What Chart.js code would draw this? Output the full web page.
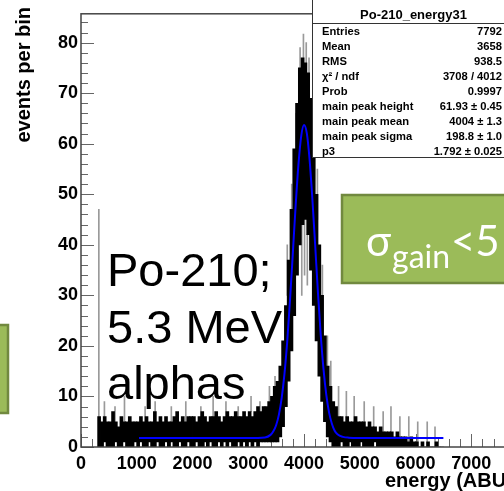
<!DOCTYPE html>
<html>
<head>
<meta charset="utf-8">
<script src="https://cdn.jsdelivr.net/npm/chart.js@4.4.1/dist/chart.umd.min.js"></script>
<style>
  html, body { margin: 0; padding: 0; background: #fff; overflow: hidden; }
  #wrap { width: 504px; height: 491px; overflow: hidden; }
  canvas { display: block; }
</style>
</head>
<body>
<div id="wrap"><canvas id="chart" width="560" height="491"></canvas></div>
<script>
// histogram, drawn as min/max per 50-unit column
const binStart = 300;
const binWidth = 50;
const binHigh = [
  6, 5, 6, 5, 5, 7, 5, 4, 6, 5, 5, 6, 5, 5,
  5, 6, 5, 6, 5, 5, 7, 5, 6, 5, 6, 5, 5, 6, 7, 5, 6, 5, 6, 6,
  6, 5, 6, 7, 6, 5, 6, 6, 7, 6, 5, 6, 7, 6, 6, 7, 6, 6, 7, 6,
  7, 6, 7, 8, 7, 8,
  8, 9, 10, 12,
  13, 16, 21, 28, 37, 47, 59, 68, 75, 77, 76, 74, 69, 61, 50, 40, 30, 22, 16, 12, 9, 8,
  6, 6, 5, 6, 5, 5, 6, 5, 5, 5, 4, 5, 4, 4, 3, 4, 3, 3,
  3, 3, 2, 3, 2, 2, 2, 1, 2, 1,
  1, 0, 1, 0, 1, 0, 0, 1, 0, 0,
];
const binLow = [
  0, 0, 1, 0, 0, 0, 1, 0, 0, 1, 0, 0, 0, 1,
  0, 1, 0, 0, 1, 0, 0, 1, 0, 0, 1, 0, 1, 0, 0, 1, 0, 0, 1, 0,
  0, 1, 0, 0, 1, 0, 1, 0, 0, 1, 0, 1, 0, 1, 0, 0, 1, 0, 1, 0,
  1, 0, 1, 0, 1, 1,
  1, 1, 1, 1,
  1, 2, 4, 8, 13, 19, 26, 34, 40, 44, 45, 42, 35, 28, 21, 14, 9, 5, 2, 1, 0, 0,
  0, 1, 0, 0, 1, 0, 0, 0, 1, 0, 0, 0, 0, 1, 0, 0, 0, 0,
  0, 0, 0, 0, 0, 0, 0, 0, 0, 0,
  0, 0, 0, 0, 0, 0, 0, 0, 0, 0,
];

// lighter single-bin spikes and dips
const spikeX = [320, 420, 610, 780, 1150, 1330, 1620, 1880, 2150, 2370, 2600, 2820, 3050, 3210, 3380, 3480,
  3700, 3780, 3860, 3930, 3990, 4040, 4090, 4160, 4240, 4330, 4420, 4480,
  3960, 4010, 4060,
  4620, 4760, 4900, 5080, 5250, 5420, 5560, 5720, 5880, 6040, 6210, 6350];
const spikeFrom = [0, 5, 5, 5, 5, 5, 5, 5, 5, 6, 6, 6, 7, 7, 9, 11,
  30, 40, 55, 70, 72, 70, 66, 58, 45, 28, 16, 11,
  30, 34, 32,
  6, 5, 5, 5, 4, 3, 2, 1, 0, 0, 0, 0];
const spikeTo = [47, 9, 8, 10, 8, 9, 8, 9, 8, 10, 9, 8, 10, 9, 12, 14,
  40, 52, 66, 79, 81.7, 80, 77, 68, 55, 36, 22, 17,
  45, 46, 42,
  12, 11, 10, 9, 8, 7, 8, 6, 6, 5, 5, 4];

// fit curve (blue)
const fitX = [1040, 3000, 3300, 3400, 3450, 3500, 3550, 3600, 3650, 3700, 3750, 3800, 3850, 3900, 3950, 4000,
  4050, 4100, 4150, 4200, 4250, 4300, 4350, 4400, 4450, 4500, 4550, 4600, 4700, 4800, 5000, 6500];
const fitY = [1.8, 1.8, 1.9, 2.4, 3.1, 4.3, 6.4, 9.7, 14.5, 21, 29.2, 38.4, 47.7, 55.8, 61.5, 63.7,
  62.1, 56.9, 49.1, 40, 30.6, 22.2, 15.4, 10.3, 6.8, 4.6, 3.2, 2.5, 2.0, 1.85, 1.8, 1.8];

const xTickLabels = [0, 1000, 2000, 3000, 4000, 5000, 6000, 7000];
const yTickLabels = [0, 10, 20, 30, 40, 50, 60, 70, 80];

const statTitle = "Po-210_energy31";
const statLabels = ["Entries", "Mean", "RMS", "\u03c7\u00b2 / ndf", "Prob", "main peak height", "main peak mean", "main peak sigma", "p3"];
const statValues = ["7792", "3658", "938.5", "3708 / 4012", "0.9997", "61.93 \u00b1 0.45", "4004 \u00b1 1.3", "198.8 \u00b1 1.0", "1.792 \u00b1 0.025"];

const noteLines = ["Po-210;", "5.3 MeV", "alphas"];

const FONT = "'Liberation Sans', Arial, sans-serif";
const SLIDE_FONT = "Lato, 'Open Sans', sans-serif";

// each column = invisible base up to the low value + black band up to the high value
const binCenters = binHigh.map((_, i) => binStart + binWidth * (i + 0.5));
const histBase = binCenters.map((x, i) => ({ x, y: binLow[i] }));
const histBand = binCenters.map((x, i) => ({ x, y: binHigh[i] - binLow[i] }));
const spikeBase = spikeX.map((x, i) => ({ x, y: spikeFrom[i] }));
const spikeBand = spikeX.map((x, i) => ({ x, y: spikeTo[i] - spikeFrom[i] }));
const fitData = fitX.map((x, i) => ({ x, y: fitY[i] }));

function drawTicks(chart) {
  const { ctx, chartArea, scales } = chart;
  ctx.save();
  ctx.strokeStyle = "#666";
  ctx.lineWidth = 1;
  for (let v = 0; v <= 84; v += 2) {
    const y = Math.round(scales.y.getPixelForValue(v)) + 0.5;
    const len = v % 10 === 0 ? 13 : 7;
    ctx.beginPath();
    ctx.moveTo(chartArea.left, y);
    ctx.lineTo(chartArea.left + len, y);
    ctx.stroke();
  }
  for (let v = 0; v <= 8000; v += 200) {
    const x = Math.round(scales.x.getPixelForValue(v)) + 0.5;
    const len = v % 1000 === 0 ? 13 : 8;
    ctx.beginPath();
    ctx.moveTo(x, chartArea.bottom);
    ctx.lineTo(x, chartArea.bottom - len);
    ctx.stroke();
  }
  ctx.restore();
}

function drawFrame(chart) {
  const { ctx, chartArea } = chart;
  ctx.save();
  ctx.strokeStyle = "#444";
  ctx.lineWidth = 1.5;
  ctx.strokeRect(chartArea.left, chartArea.top, chartArea.right - chartArea.left, chartArea.bottom - chartArea.top);
  ctx.restore();
}

function greenBox(ctx, x, y, w, h) {
  ctx.fillStyle = "#9bbb59";
  ctx.fillRect(x, y, w, h);
  ctx.strokeStyle = "#71893f";
  ctx.lineWidth = 2.5;
  ctx.strokeRect(x, y, w, h);
}

function drawOverlay(chart) {
  const { ctx } = chart;
  ctx.save();

  // stats box
  ctx.fillStyle = "#fff";
  ctx.fillRect(312, -2, 203, 159);
  ctx.strokeStyle = "#333";
  ctx.lineWidth = 1;
  ctx.strokeRect(312.5, -2, 203, 159.5);
  ctx.beginPath();
  ctx.moveTo(312.5, 23.5);
  ctx.lineTo(515, 23.5);
  ctx.stroke();
  ctx.fillStyle = "#000";
  ctx.font = "bold 13px " + FONT;
  ctx.textAlign = "center";
  ctx.textBaseline = "alphabetic";
  ctx.fillText(statTitle, 413.5, 19);
  ctx.font = "bold 11.2px " + FONT;
  statLabels.forEach((label, i) => {
    const y = 34.7 + i * 15;
    ctx.textAlign = "left";
    ctx.fillText(label, 322, y);
    ctx.textAlign = "right";
    ctx.fillText(statValues[i], 502, y);
  });

  // axis titles
  ctx.font = "bold 20px " + FONT;
  ctx.textAlign = "left";
  ctx.fillText("energy (ABU)", 385, 487);
  ctx.save();
  ctx.translate(30, 7);
  ctx.rotate(-Math.PI / 2);
  ctx.textAlign = "right";
  ctx.fillText("events per bin", 0, 0);
  ctx.restore();

  // green boxes
  greenBox(ctx, -10, 325, 18, 88);
  greenBox(ctx, 342, 195, 200, 88);
  ctx.fillStyle = "#fff";
  ctx.textAlign = "left";
  ctx.font = "42px " + SLIDE_FONT;
  ctx.fillText("\u03c3", 366, 256);
  ctx.font = "32px " + SLIDE_FONT;
  ctx.fillText("gain", 392, 268);
  ctx.font = "42px " + SLIDE_FONT;
  ctx.fillText("<5", 451, 256);

  // annotation
  ctx.fillStyle = "#000";
  ctx.font = "47px " + FONT;
  noteLines.forEach((line, i) => {
    ctx.fillText(line, 107, 286 + i * 56.5);
  });

  ctx.restore();
}

const rootStyle = {
  id: "rootStyle",
  beforeDatasetsDraw(chart) {
    drawTicks(chart);
  },
  afterDatasetsDraw(chart) {
    drawFrame(chart);
  },
  afterDraw(chart) {
    drawOverlay(chart);
  },
};

const barCommon = { grouped: false, borderWidth: 0 };

new Chart(document.getElementById("chart"), {
  type: "bar",
  data: {
    datasets: [
      {
        type: "line",
        label: "fit",
        data: fitData,
        borderColor: "#0000ff",
        borderWidth: 2,
        pointRadius: 0,
        cubicInterpolationMode: "monotone",
        stack: "fit",
        order: 0,
      },
      { ...barCommon, label: "histBase", data: histBase, backgroundColor: "rgba(0,0,0,0)", barThickness: 3, stack: "hist", order: 1 },
      { ...barCommon, label: "Po-210_energy31", data: histBand, backgroundColor: "#000", barThickness: 3, stack: "hist", order: 1 },
      { ...barCommon, label: "spikeBase", data: spikeBase, backgroundColor: "rgba(0,0,0,0)", barThickness: 1, stack: "spike", order: 2 },
      { ...barCommon, label: "spikes", data: spikeBand, backgroundColor: "#9a9a9a", barThickness: 1, stack: "spike", order: 2 },
    ],
  },
  options: {
    responsive: false,
    animation: false,
    events: [],
    layout: { padding: { left: 0, top: 7, right: 33, bottom: 0 } },
    plugins: {
      legend: { display: false },
      tooltip: { enabled: false },
    },
    scales: {
      x: {
        type: "linear",
        min: 0,
        max: 8000,
        offset: false,
        grid: { display: false, drawTicks: false, offset: false },
        border: { display: false },
        ticks: {
          stepSize: 1000,
          includeBounds: false,
          autoSkip: false,
          maxRotation: 0,
          padding: 6,
          color: "#000",
          font: { family: FONT, size: 18, weight: "bold" },
          callback: (v) => (xTickLabels.includes(v) ? String(v) : ""),
        },
        afterFit: (scale) => {
          scale.height = 44;
        },
      },
      y: {
        min: 0,
        max: 85.7,
        stacked: true,
        grid: { display: false, drawTicks: false },
        border: { display: false },
        ticks: {
          stepSize: 10,
          includeBounds: false,
          padding: 3,
          color: "#000",
          font: { family: FONT, size: 18, weight: "bold" },
          callback: (v) => (yTickLabels.includes(v) ? String(v) : ""),
        },
        afterFit: (scale) => {
          scale.width = 81;
        },
      },
    },
  },
  plugins: [rootStyle],
});
</script>
</body>
</html>
